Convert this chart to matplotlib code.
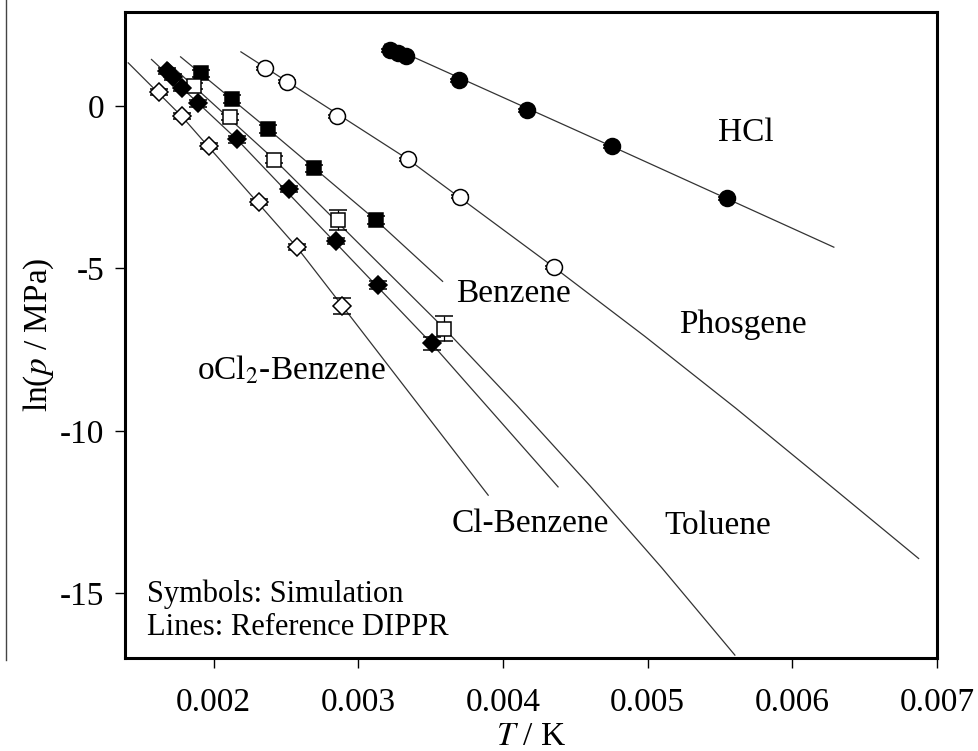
import matplotlib
matplotlib.use("Agg")
import matplotlib.pyplot as plt
from matplotlib.lines import Line2D

plt.rcParams['font.family'] = ['Liberation Serif', 'DejaVu Serif']
plt.rcParams['mathtext.fontset'] = 'stix'

# simulation points: 1/T and ln(p / MPa)
hcl_x = [0.003218, 0.003274, 0.003329, 0.003695, 0.004165, 0.004753, 0.005548]
hcl_y = [1.725, 1.633, 1.540, 0.801, -0.123, -1.232, -2.834]
hcl_err = [0.05, 0.05, 0.05, 0.05, 0.05, 0.05, 0.05]

phos_x = [0.002355, 0.002507, 0.002856, 0.003345, 0.003706, 0.004352]
phos_y = [1.171, 0.749, -0.308, -1.642, -2.794, -4.960]
phos_err = [0.05, 0.05, 0.05, 0.05, 0.05, 0.05]

benz_x = [0.001914, 0.002124, 0.002373, 0.002695, 0.003122]
benz_y = [1.007, 0.231, -0.693, -1.919, -3.512]
benz_err = [0.12, 0.12, 0.12, 0.12, 0.12]

tol_x = [0.001864, 0.002113, 0.002420, 0.002861, 0.003595]
tol_y = [0.616, -0.333, -1.645, -3.497, -6.851]
tol_err = [0.1, 0.1, 0.1, 0.31, 0.38]

clb_x = [0.001675, 0.001721, 0.001781, 0.001891, 0.002162, 0.002524, 0.002845, 0.003138, 0.003507]
clb_y = [1.078, 0.893, 0.555, 0.083, -1.026, -2.557, -4.150, -5.514, -7.311]
clb_err = [0.1, 0.1, 0.1, 0.1, 0.1, 0.1, 0.1, 0.12, 0.2]

ocl_x = [0.001624, 0.001779, 0.001970, 0.002312, 0.002574, 0.002891]
ocl_y = [0.441, -0.308, -1.232, -2.948, -4.335, -6.161]
ocl_err = [0.1, 0.1, 0.1, 0.1, 0.1, 0.24]

# reference DIPPR curves
hcl_ref_x = [0.003183, 0.004753, 0.006287]
hcl_ref_y = [1.910, -1.240, -4.344]
phos_ref_x = [0.002189, 0.003345, 0.004352, 0.004981, 0.005610, 0.006239, 0.006873]
phos_ref_y = [1.673, -1.642, -4.960, -7.092, -9.307, -11.605, -13.934]
benz_ref_x = [0.001772, 0.002373, 0.003122, 0.003583]
benz_ref_y = [1.519, -0.693, -3.512, -5.397]
tol_ref_x = [0.001686, 0.002420, 0.003595, 0.004096, 0.004601, 0.005098, 0.005603]
tol_ref_y = [1.334, -1.645, -6.851, -9.217, -11.691, -14.221, -16.91]
clb_ref_x = [0.001571, 0.002162, 0.003507, 0.004381]
clb_ref_y = [1.439, -1.026, -7.311, -11.728]
ocl_ref_x = [0.001410, 0.001779, 0.002574, 0.002891, 0.003898]
ocl_ref_y = [1.334, -0.308, -4.335, -6.161, -11.984]

fig = plt.figure(figsize=(9.79, 7.51), dpi=100)
ax = fig.add_axes([0.1277, 0.1238, 0.8294, 0.8602])

for rx, ry in [(hcl_ref_x, hcl_ref_y), (phos_ref_x, phos_ref_y), (benz_ref_x, benz_ref_y),
               (tol_ref_x, tol_ref_y), (clb_ref_x, clb_ref_y), (ocl_ref_x, ocl_ref_y)]:
    ax.plot(rx, ry, color='#333333', lw=0.9, zorder=1)

def sim(x, y, e, marker, ms, face):
    ax.errorbar(x, y, yerr=e, fmt=marker, ms=ms, mfc=face, mec='black', mew=1.1,
                ecolor='black', elinewidth=0.9, capsize=6.5, capthick=0.9, zorder=3)

sim(hcl_x, hcl_y, hcl_err, 'o', 11.5, 'black')
sim(phos_x, phos_y, phos_err, 'o', 11.5, 'white')
sim(benz_x, benz_y, benz_err, 's', 10, 'black')
sim(tol_x, tol_y, tol_err, 's', 10.5, 'white')
sim(clb_x, clb_y, clb_err, 'D', 9.5, 'black')
sim(ocl_x, ocl_y, ocl_err, 'D', 9.5, 'white')

fs = 24
ax.text(0.005679, -0.832, 'HCl', fontsize=fs, ha='center', va='center')
ax.text(0.004070, -5.770, 'Benzene', fontsize=fs, ha='center', va='center')
ax.text(0.005658, -6.747, 'Phosgene', fontsize=fs, ha='center', va='center')
ax.text(0.002541, -8.133, 'oCl$_2$-Benzene', fontsize=fs, ha='center', va='center')
ax.text(0.004186, -12.85, 'Cl-Benzene', fontsize=fs, ha='center', va='center')
ax.text(0.005482, -12.91, 'Toluene', fontsize=fs, ha='center', va='center')
ax.text(0.027, 0.099, 'Symbols: Simulation', fontsize=22, transform=ax.transAxes, va='center')
ax.text(0.027, 0.048, 'Lines: Reference DIPPR', fontsize=22, transform=ax.transAxes, va='center')

ax.set_xlim(0.001388, 0.007)
ax.set_ylim(-17.0, 2.9)
ax.set_xticks([0.002, 0.003, 0.004, 0.005, 0.006, 0.007])
ax.set_xticklabels(['0.002', '0.003', '0.004', '0.005', '0.006', '0.007'])
ax.set_yticks([0, -5, -10, -15])
ax.set_yticklabels(['0', '-5', '-10', '-15'])
ax.tick_params(direction='out', length=7, width=1, labelsize=24)
ax.tick_params(axis='x', pad=14)
ax.tick_params(axis='y', pad=8)
for s in ax.spines.values():
    s.set_linewidth(2.2)
ax.set_xlabel('$T$ / K', fontsize=24, labelpad=3)
ax.set_ylabel('ln($p$ / MPa)', fontsize=24, labelpad=3)

fig.add_artist(Line2D([6 / 979, 6 / 979], [1.0, 1 - 660 / 751], color='#444444', lw=1.0))

fig.savefig('out.png', dpi=100)
